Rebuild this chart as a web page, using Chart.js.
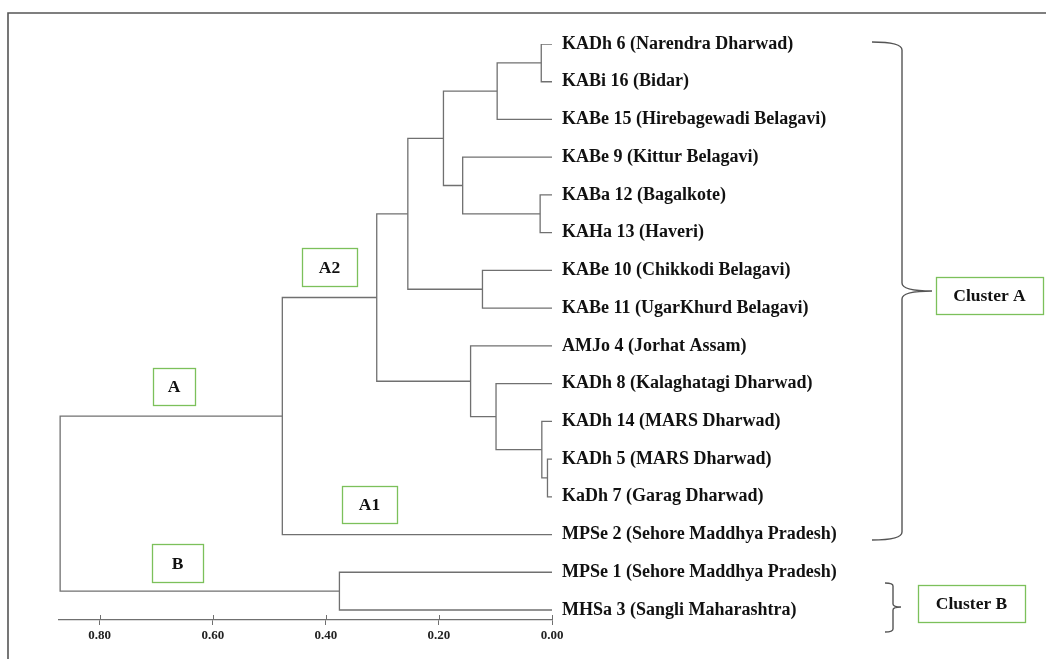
<!DOCTYPE html>
<html>
<head>
<meta charset="utf-8">
<script src="https://cdn.jsdelivr.net/npm/chart.js@4.4.1/dist/chart.umd.min.js"></script>
<style>
  html, body { margin: 0; padding: 0; background: #fff; }
  canvas { display: block; }
</style>
</head>
<body>
<canvas id="c" width="1046" height="659"></canvas>
<script>
// ---------- DATA ----------
const leafLabels = [
  'KADh 6 (Narendra Dharwad)',
  'KABi 16 (Bidar)',
  'KABe 15 (Hirebagewadi Belagavi)',
  'KABe 9 (Kittur Belagavi)',
  'KABa 12 (Bagalkote)',
  'KAHa 13 (Haveri)',
  'KABe 10 (Chikkodi Belagavi)',
  'KABe 11 (UgarKhurd Belagavi)',
  'AMJo 4 (Jorhat Assam)',
  'KADh 8 (Kalaghatagi Dharwad)',
  'KADh 14 (MARS Dharwad)',
  'KADh 5 (MARS Dharwad)',
  'KaDh 7 (Garag Dharwad)',
  'MPSe 2 (Sehore Maddhya Pradesh)',
  'MPSe 1 (Sehore Maddhya Pradesh)',
  'MHSa 3 (Sangli Maharashtra)'
];
// merges: pairs of node ids (leaves 0..15, merged nodes 16..)
const mergePairs = [
  [0, 1], [16, 2], [4, 5], [3, 18], [17, 19], [6, 7], [20, 21],
  [11, 12], [10, 23], [9, 24], [8, 25], [22, 26], [27, 13],
  [14, 15], [28, 29]
];
const mergeHeights = [
  0.019, 0.097, 0.021, 0.158, 0.192, 0.123, 0.255,
  0.008, 0.018, 0.099, 0.144, 0.310, 0.477,
  0.376, 0.870
];
const axisTicks = [0, 0.2, 0.4, 0.6, 0.8];
const groupLabels = ['A', 'A2', 'A1', 'B'];
const clusterLabels = ['Cluster A', 'Cluster B'];

// ---------- STYLE / LAYOUT ----------
const LINE = '#707070';
const FONT = '"Liberation Serif", "Times New Roman", serif';
const groupBoxes = [
  { x: 153, y: 368, w: 42, h: 37 },
  { x: 302, y: 248, w: 55, h: 38 },
  { x: 342, y: 486, w: 55, h: 37 },
  { x: 152, y: 544, w: 51, h: 38 }
];
const clusterBoxes = [
  { x: 936, y: 277, w: 107, h: 37 },
  { x: 918, y: 585, w: 107, h: 37 }
];

// ---------- BUILD DENDROGRAM ----------
const nodeY = leafLabels.map((_, i) => i);
const nodeH = leafLabels.map(() => 0);
const datasets = mergePairs.map(([a, b], k) => {
  const h = mergeHeights[k];
  nodeY.push((nodeY[a] + nodeY[b]) / 2);
  nodeH.push(h);
  return {
    data: [
      { x: nodeH[a], y: nodeY[a] },
      { x: h, y: nodeY[a] },
      { x: h, y: nodeY[b] },
      { x: nodeH[b], y: nodeY[b] }
    ],
    showLine: true,
    borderColor: LINE,
    borderWidth: 1.3,
    pointRadius: 0,
    fill: false,
    tension: 0
  };
});

const decor = {
  id: 'decor',
  beforeDraw(chart) {
    const ctx = chart.ctx;
    ctx.save();
    ctx.fillStyle = '#fff';
    ctx.fillRect(0, 0, chart.width, chart.height);
    ctx.restore();
  },
  afterDraw(chart) {
    const ctx = chart.ctx;
    const xs = chart.scales.x;
    ctx.save();
    // outer frame
    ctx.strokeStyle = '#555';
    ctx.lineWidth = 1.6;
    ctx.beginPath();
    ctx.moveTo(8, 659);
    ctx.lineTo(8, 13);
    ctx.lineTo(1046, 13);
    ctx.stroke();
    // upper halves of axis ticks
    ctx.strokeStyle = LINE;
    ctx.lineWidth = 1;
    ctx.beginPath();
    xs.ticks.forEach(t => {
      const px = Math.round(xs.getPixelForValue(t.value)) + 0.5;
      ctx.moveTo(px, xs.top - 5);
      ctx.lineTo(px, xs.top);
    });
    ctx.stroke();
    // label boxes
    const drawBox = (b, text) => {
      ctx.strokeStyle = '#7cc05a';
      ctx.lineWidth = 1.3;
      ctx.strokeRect(b.x + 0.5, b.y + 0.5, b.w, b.h);
      ctx.fillStyle = '#111';
      ctx.font = 'bold 17.5px ' + FONT;
      ctx.textAlign = 'center';
      ctx.textBaseline = 'middle';
      ctx.fillText(text, b.x + b.w / 2, b.y + b.h / 2 + 1);
    };
    groupBoxes.forEach((b, i) => drawBox(b, groupLabels[i]));
    clusterBoxes.forEach((b, i) => drawBox(b, clusterLabels[i]));
    // braces
    ctx.strokeStyle = '#555';
    ctx.lineWidth = 1.4;
    const brace = (x0, x1, xp, yt, ym, yb, r) => {
      ctx.beginPath();
      ctx.moveTo(x0, yt);
      ctx.quadraticCurveTo(x1, yt, x1, yt + r);
      ctx.lineTo(x1, ym - r);
      ctx.quadraticCurveTo(x1, ym, xp, ym);
      ctx.quadraticCurveTo(x1, ym, x1, ym + r);
      ctx.lineTo(x1, yb - r);
      ctx.quadraticCurveTo(x1, yb, x0, yb);
      ctx.stroke();
    };
    brace(872, 902, 932, 42, 291, 540, 8);
    brace(885, 893, 901, 583, 607, 632, 3);
    ctx.restore();
  }
};

new Chart(document.getElementById('c'), {
  type: 'scatter',
  data: { datasets },
  options: {
    responsive: false,
    animation: false,
    events: [],
    layout: { padding: { left: 59, right: 194, top: 44, bottom: 9 } },
    plugins: { legend: { display: false }, tooltip: { enabled: false } },
    scales: {
      x: {
        type: 'linear',
        position: 'bottom',
        reverse: true,
        min: 0,
        max: 0.872,
        afterBuildTicks: s => { s.ticks = axisTicks.map(v => ({ value: v })); },
        afterFit: s => { s.height = 30; },
        ticks: {
          includeBounds: false,
          callback: v => Number(v).toFixed(2),
          font: { family: FONT, size: 13, weight: 'bold' },
          color: '#222',
          padding: 3,
          maxRotation: 0,
          autoSkip: false
        },
        grid: { display: true, drawOnChartArea: false, drawTicks: true, tickLength: 5, color: LINE, lineWidth: 1 },
        border: { display: true, color: LINE, width: 1.3 }
      },
      y: {
        type: 'linear',
        position: 'right',
        reverse: true,
        min: 0,
        max: 15.265,
        afterFit: s => { s.width = 300; },
        ticks: {
          stepSize: 1,
          maxTicksLimit: 30,
          includeBounds: false,
          autoSkip: false,
          padding: 10,
          callback: v => (Number.isInteger(v) && leafLabels[v]) ? leafLabels[v] : '',
          font: { family: FONT, size: 18, weight: 'bold' },
          color: '#111'
        },
        grid: { display: false, drawTicks: false },
        border: { display: false }
      }
    }
  },
  plugins: [decor]
});
</script>
</body>
</html>
